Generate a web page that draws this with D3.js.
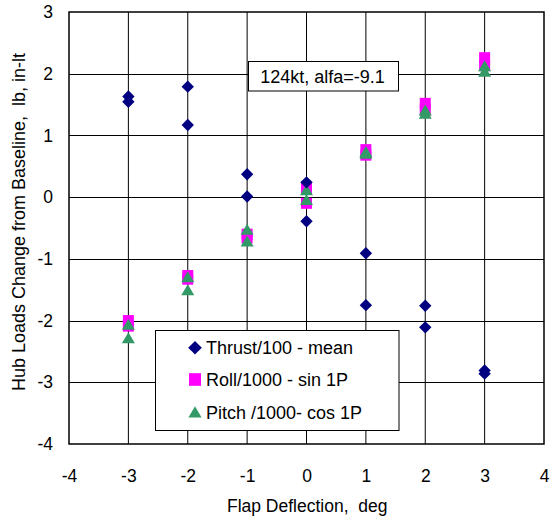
<!DOCTYPE html>
<html><head><meta charset="utf-8">
<script src="https://cdn.jsdelivr.net/npm/d3@7"></script>
<style>body{margin:0;background:#fff}svg{display:block}text{font-family:"Liberation Sans",Arial,sans-serif;white-space:pre}</style>
</head><body><svg id="c" width="551" height="520"></svg>
<script>
const xTicks = [-4,-3,-2,-1,0,1,2,3,4];
const yTicks = [-4,-3,-2,-1,0,1,2,3];
const thrustX = [-3,-3,-2,-2,-1,-1,0,0,1,1,2,2,3,3];
const thrustY = [1.63,1.545,1.79,1.17,0.37,0.01,0.24,-0.39,-0.91,-1.75,-1.76,-2.11,-2.81,-2.86];
const rollX = [-3,-3,-2,-2,-1,-1,0,0,1,1,2,2,3,3];
const rollY = [-2.0,-2.09,-1.27,-1.33,-0.6,-0.66,0.15,-0.1,0.77,0.68,1.52,1.41,2.26,2.13];
const pitchX = [-3,-3,-2,-2,-1,-1,0,0,1,1,2,2,3,3];
const pitchY = [-2.07,-2.29,-1.3,-1.51,-0.53,-0.72,0.11,-0.05,0.73,0.7,1.4,1.35,2.12,2.03];
const seriesNames = ["Thrust/100 - mean","Roll/1000 - sin 1P","Pitch /1000- cos 1P"];
const annotation = "124kt, alfa=-9.1";
const xTitle = "Flap Deflection,  deg";
const yTitle = "Hub Loads Change from Baseline,  lb, in-lt";

const svg = d3.select("#c");
const L=69,R=544,T=12,B=444;
const FONT = "Liberation Sans, Arial, sans-serif";
const x = d3.scaleLinear().domain([-4,4]).range([L,R]);
const y = d3.scaleLinear().domain([-4,3]).range([B,T]);

// gridlines
svg.append("g").selectAll("line").data(xTicks.slice(1,-1)).join("line")
  .attr("x1",d=>x(d)).attr("x2",d=>x(d)).attr("y1",T).attr("y2",B)
  .attr("stroke","#000").attr("stroke-width",1);
svg.append("g").selectAll("line").data(yTicks.slice(1,-1)).join("line")
  .attr("y1",d=>Math.round(y(d))+0.5).attr("y2",d=>Math.round(y(d))+0.5).attr("x1",L).attr("x2",R)
  .attr("stroke","#000").attr("stroke-width",1);
svg.append("rect").attr("x",L).attr("y",T).attr("width",R-L).attr("height",B-T)
  .attr("fill","none").attr("stroke","#000").attr("stroke-width",1.5);

// axes
const fmt = d => String(d);
const xa = svg.append("g").attr("transform",`translate(0,${B})`)
  .call(d3.axisBottom(x).tickValues(xTicks).tickSize(0).tickPadding(26).tickFormat(fmt));
xa.select(".domain").remove();
xa.selectAll("text").attr("font-size",17.5).attr("fill","#000").attr("font-family",FONT);
const ya = svg.append("g").attr("transform",`translate(${L},0)`)
  .call(d3.axisLeft(y).tickValues(yTicks).tickSize(0).tickPadding(16).tickFormat(fmt));
ya.select(".domain").remove();
ya.selectAll("text").attr("font-size",17.5).attr("fill","#000").attr("font-family",FONT);

svg.append("text").attr("x",(221.7+392.7)/2).attr("y",511.5).attr("text-anchor","middle")
  .attr("font-size",17.5).text(xTitle);
svg.append("text").attr("transform","translate(25,222) rotate(-90)").attr("text-anchor","middle")
  .attr("font-size",18).text(yTitle);

// markers
const diamond = s => `M0,${-s}L${s},0L0,${s}L${-s},0Z`;
const tri = s => `M0,${-s*0.95}L${s},${s*0.75}L${-s},${s*0.75}Z`;
const colors = ["#000080","#FF00FF","#339966"];

svg.append("g").selectAll("rect").data(rollY.map((v,i)=>[rollX[i],v])).join("rect")
  .attr("x",d=>x(d[0])-5.5).attr("y",d=>y(d[1])-5.5).attr("width",11).attr("height",11).attr("fill",colors[1]);
svg.append("g").selectAll("path").data(pitchY.map((v,i)=>[pitchX[i],v])).join("path")
  .attr("d",tri(6.5)).attr("transform",d=>`translate(${x(d[0])},${y(d[1])})`).attr("fill",colors[2]);
svg.append("g").selectAll("path").data(thrustY.map((v,i)=>[thrustX[i],v])).join("path")
  .attr("d",diamond(6.2)).attr("transform",d=>`translate(${x(d[0])},${y(d[1])})`).attr("fill",colors[0]);

// annotation
svg.append("rect").attr("x",248.5).attr("y",61.5).attr("width",150).attr("height",29.5)
  .attr("fill","#fff").attr("stroke","#000").attr("stroke-width",1);
svg.append("text").attr("x",322.5).attr("y",82.5).attr("text-anchor","middle").attr("font-size",18).text(annotation);

// legend
const lg = svg.append("g");
lg.append("rect").attr("x",155.5).attr("y",330.5).attr("width",243.5).attr("height",100)
  .attr("fill","#fff").attr("stroke","#000").attr("stroke-width",1);
const ly = [347.7,379.5,412.5];
lg.append("path").attr("d",diamond(6.8)).attr("transform",`translate(195,${ly[0]})`).attr("fill",colors[0]);
lg.append("rect").attr("x",189).attr("y",ly[1]-6.3).attr("width",12).attr("height",12.6).attr("fill",colors[1]);
lg.append("path").attr("d",tri(6.6)).attr("transform",`translate(195,${ly[2]})`).attr("fill",colors[2]);
seriesNames.forEach((n,i)=>{
  lg.append("text").attr("x",206).attr("y",ly[i]+6.5).attr("font-size",18).text(n);
});
</script></body></html>
